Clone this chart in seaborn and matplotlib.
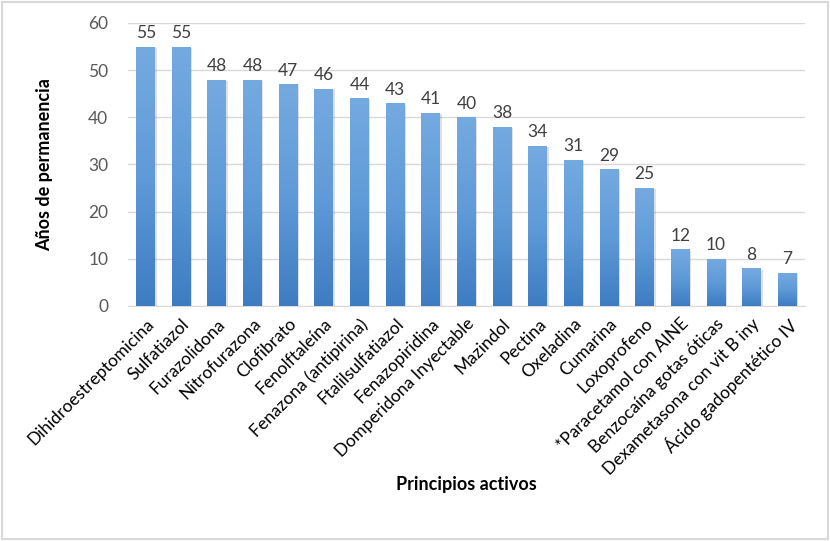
import numpy as np
import pandas as pd
import matplotlib
matplotlib.use("Agg")
import matplotlib.pyplot as plt
import seaborn as sns
from matplotlib.colors import LinearSegmentedColormap
from matplotlib.patches import Rectangle

categorias = ["Dihidroestreptomicina", "Sulfatiazol", "Furazolidona", "Nitrofurazona",
              "Clofibrato", "Fenolftaleína", "Fenazona (antipirina)", "Ftalilsulfatiazol",
              "Fenazopiridina", "Domperidona Inyectable", "Mazindol", "Pectina",
              "Oxeladina", "Cumarina", "Loxoprofeno", "*Paracetamol con AINE",
              "Benzocaína gotas óticas", "Dexametasona con vit B iny", "Ácido gadopentético IV"]
anios = [55, 55, 48, 48, 47, 46, 44, 43, 41, 40, 38, 34, 31, 29, 25, 12, 10, 8, 7]
yticks = [0, 10, 20, 30, 40, 50, 60]

df = pd.DataFrame({"cat": categorias, "val": anios})

sns.set_style("white")
plt.rcParams['font.family'] = ['Lato', 'DejaVu Sans']

fig = plt.figure(figsize=(8.3, 5.41), dpi=100)
ax = fig.add_axes([0.154, 0.4344, 0.816, 0.5231])

sns.barplot(data=df, x="cat", y="val", color="#5B9BD5", width=0.53, ax=ax,
            saturation=1, zorder=3)

cmap = LinearSegmentedColormap.from_list("g", ["#3E7CC2", "#5F9BD8", "#75AAE0"])
grad = np.linspace(0, 1, 256).reshape(-1, 1)
for p in ax.patches:
    x0, y0, w, h = p.get_x(), p.get_y(), p.get_width(), p.get_height()
    sh = Rectangle((x0 + 0.04, y0), w, h - 0.3, facecolor="#000000", alpha=0.12,
                   zorder=2, edgecolor="none")
    ax.add_patch(sh)
    im = ax.imshow(grad, extent=[x0, x0 + w, y0, y0 + h], origin="lower",
                   cmap=cmap, aspect="auto", zorder=3.5)
    im.set_clip_path(p)
    p.set_edgecolor("none")

ax.set_xlim(-0.5, len(categorias) - 0.5)
ax.set_ylim(0, 60)
ax.set_yticks(yticks)
ax.set_yticklabels([str(t) for t in yticks], color="#595959", fontsize=12.5)
ax.yaxis.grid(True, color="#D9D9D9", linewidth=1, zorder=0)
ax.set_axisbelow(True)

for i, v in enumerate(anios):
    ax.text(i, v + 1.2, str(v), ha="center", va="bottom", fontsize=12.5,
            color="#404040", zorder=5)

ax.set_xticks(range(len(categorias)))
ax.set_xticklabels(categorias, rotation=45, ha="right", rotation_mode="anchor",
                   fontsize=12.5, color="#000000")
ax.tick_params(axis="x", length=0, pad=7)
ax.tick_params(axis="y", length=0, pad=14)

for s in ["top", "right", "left"]:
    ax.spines[s].set_visible(False)
ax.spines["bottom"].set_color("#D9D9D9")

ax.set_xlabel("Principios activos", fontsize=13, fontweight="bold", color="#000000")
ax.xaxis.set_label_coords(0.5, -0.6)
ax.set_ylabel("Años de permanencia", fontsize=13, fontweight="bold", color="#000000")
ax.yaxis.set_label_coords(-0.11, 0.5)

fig.add_artist(Rectangle((0.002, 0.003), 0.995, 0.993, transform=fig.transFigure,
                         fill=False, edgecolor="#D9D9D9", linewidth=1.5))

fig.savefig("out.png", dpi=100, facecolor="white")
